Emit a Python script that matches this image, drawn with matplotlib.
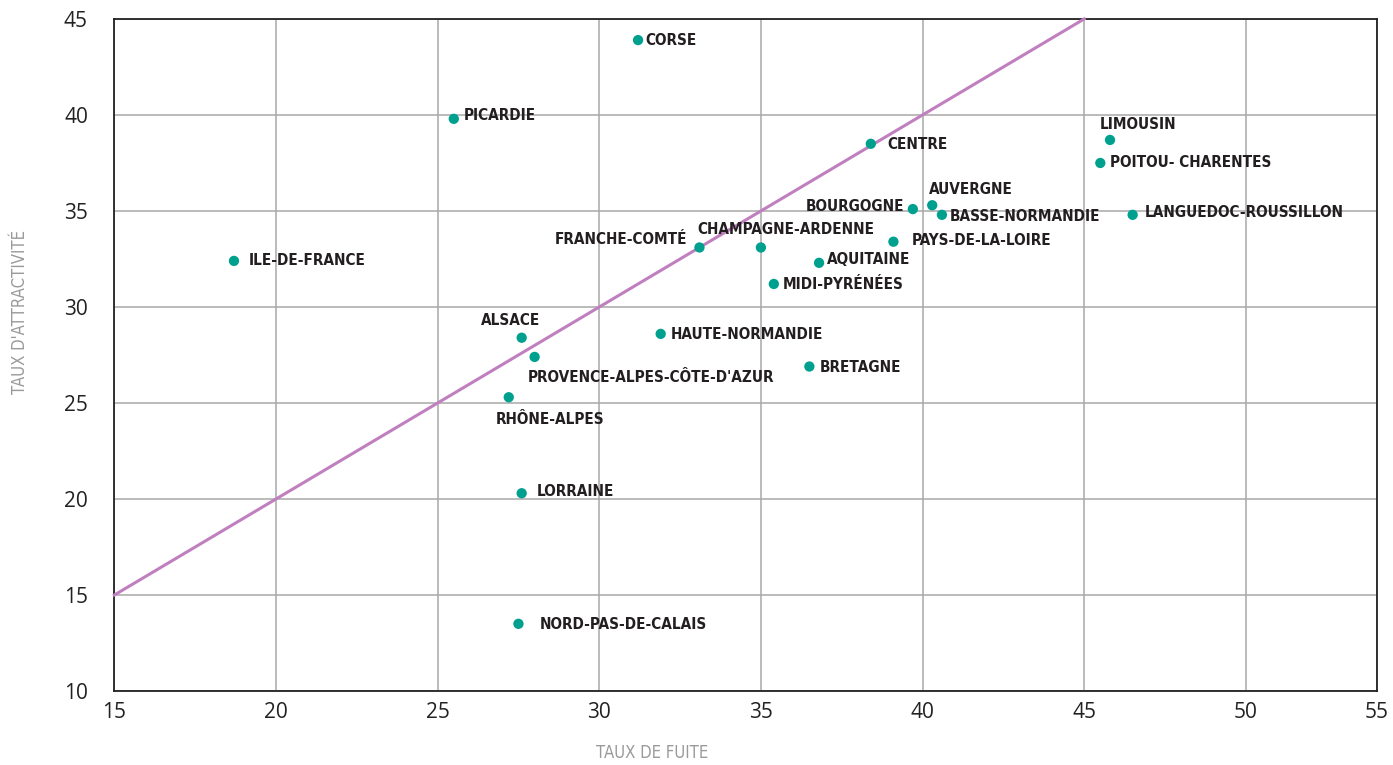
import matplotlib
matplotlib.use("Agg")
import matplotlib.pyplot as plt

# Données : taux de fuite (x) / taux d'attractivité (y) par région
regions = [
    "CORSE", "PICARDIE", "ILE-DE-FRANCE", "FRANCHE-COMTÉ", "CHAMPAGNE-ARDENNE",
    "CENTRE", "BOURGOGNE", "AUVERGNE", "BASSE-NORMANDIE", "PAYS-DE-LA-LOIRE",
    "AQUITAINE", "MIDI-PYRÉNÉES", "LIMOUSIN", "POITOU- CHARENTES",
    "LANGUEDOC-ROUSSILLON", "ALSACE", "PROVENCE-ALPES-CÔTE-D'AZUR", "RHÔNE-ALPES",
    "HAUTE-NORMANDIE", "LORRAINE", "NORD-PAS-DE-CALAIS", "BRETAGNE",
]
taux_fuite = [31.2, 25.5, 18.7, 33.1, 35.0, 38.4, 39.7, 40.3, 40.6, 39.1,
              36.8, 35.4, 45.8, 45.5, 46.5, 27.6, 28.0, 27.2, 31.9, 27.6, 27.5, 36.5]
taux_attractivite = [43.9, 39.8, 32.4, 33.1, 33.1, 38.5, 35.1, 35.3, 34.8, 33.4,
                     32.3, 31.2, 38.7, 37.5, 34.8, 28.4, 27.4, 25.3, 28.6, 20.3, 13.5, 26.9]

diag_x = [15, 45]
diag_y = [15, 45]

x_ticks = [15, 20, 25, 30, 35, 40, 45, 50, 55]
y_ticks = [10, 15, 20, 25, 30, 35, 40, 45]

# Placement des étiquettes (décalage en pixels, alignement)
placement = {
    "CORSE": (7, 0, "left"),
    "PICARDIE": (10, 3, "left"),
    "ILE-DE-FRANCE": (15, 0, "left"),
    "FRANCHE-COMTÉ": (-12, 8, "right"),
    "CHAMPAGNE-ARDENNE": (25, 18, "center"),
    "CENTRE": (17, -1, "left"),
    "BOURGOGNE": (-9, 3, "right"),
    "AUVERGNE": (-3, 16, "left"),
    "BASSE-NORMANDIE": (8, -2, "left"),
    "PAYS-DE-LA-LOIRE": (18, 1, "left"),
    "AQUITAINE": (8, 3, "left"),
    "MIDI-PYRÉNÉES": (9, -1, "left"),
    "LIMOUSIN": (-10, 15, "left"),
    "POITOU- CHARENTES": (10, 0, "left"),
    "LANGUEDOC-ROUSSILLON": (12, 2, "left"),
    "ALSACE": (-11, 17, "center"),
    "PROVENCE-ALPES-CÔTE-D'AZUR": (-7, -21, "left"),
    "RHÔNE-ALPES": (-13, -22, "left"),
    "HAUTE-NORMANDIE": (10, -1, "left"),
    "LORRAINE": (15, 2, "left"),
    "NORD-PAS-DE-CALAIS": (21, -1, "left"),
    "BRETAGNE": (10, -1, "left"),
}

tick_font = ["Open Sans", "DejaVu Sans"]

fig = plt.figure(figsize=(13.93, 7.65), dpi=100)
ax = fig.add_axes([0.0821, 0.0967, 0.9062, 0.8785])

x_max = 54.05
ax.set_xlim(15, x_max)
ax.set_ylim(10, 45)

ax.set_xticks(x_ticks[:-1] + [x_max])
ax.set_xticklabels([str(t) for t in x_ticks])
ax.set_yticks(y_ticks)
ax.set_yticklabels([str(t) for t in y_ticks])
ax.tick_params(axis="both", length=0, labelsize=15, colors="#222222")
ax.tick_params(axis="x", pad=8)
ax.tick_params(axis="y", pad=19)
for lab in ax.get_xticklabels() + ax.get_yticklabels():
    lab.set_family(tick_font)

ax.grid(True, color="#a8a8a8", linewidth=1.1)
ax.set_axisbelow(True)
for side in ["top", "right", "bottom", "left"]:
    ax.spines[side].set_color("#222222")
    ax.spines[side].set_linewidth(1.3)

ax.plot(diag_x, diag_y, color="#c07fbf", linewidth=2.2, zorder=3, clip_on=False)
ax.scatter(taux_fuite, taux_attractivite, s=55, color="#00a08f", zorder=4,
           edgecolors="none")

for nom, x, y in zip(regions, taux_fuite, taux_attractivite):
    dx, dy, ha = placement[nom]
    ax.annotate(nom, (x, y), xytext=(dx, dy), textcoords="offset pixels",
                ha=ha, va="center", fontsize=11, fontweight="bold",
                fontstretch="condensed", family="DejaVu Sans",
                color="#231f20", zorder=5)

fig.text(652 / 1393, 1 - 753 / 765, "TAUX DE FUITE", ha="center", va="center",
         fontsize=12, color="#9a9a9a", fontstretch="condensed",
         fontweight="light", family="DejaVu Sans")
fig.text(20 / 1393, 1 - 312 / 765, "TAUX D'ATTRACTIVITÉ", ha="center", va="center",
         rotation=90, fontsize=12, color="#9a9a9a", fontstretch="condensed",
         fontweight="light", family="DejaVu Sans")

fig.savefig("out.png", dpi=100)
